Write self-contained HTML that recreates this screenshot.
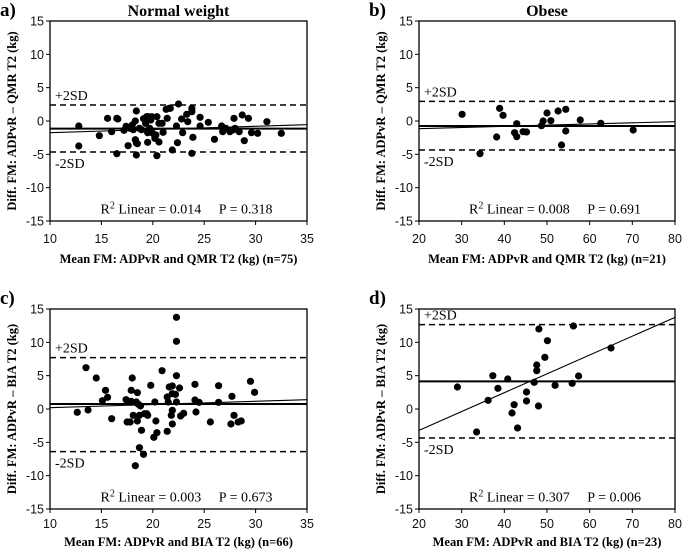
<!DOCTYPE html>
<html><head><meta charset="utf-8"><style>
html,body{margin:0;padding:0;background:#fff;}
svg{display:block;}
.tick{font-family:"Liberation Sans",sans-serif;font-size:12.5px;fill:#111;}
.ttl{font-family:"Liberation Serif",serif;font-weight:bold;font-size:16px;fill:#000;}
.ax{font-family:"Liberation Serif",serif;font-weight:bold;font-size:12.5px;fill:#000;}
.ann{font-family:"Liberation Serif",serif;font-size:14px;fill:#000;}
.pl{font-family:"Liberation Serif",serif;font-weight:bold;font-size:19px;fill:#000;}
</style></head><body>
<svg id="chart" width="682" height="549" viewBox="0 0 682 549" xmlns="http://www.w3.org/2000/svg"></svg>
<script>
// Panel a: Normal weight, ADPvR - QMR
const aX=[12.8,12.8,14.8,15.6,16.0,16.5,16.6,16.5,17.2,17.4,17.6,17.8,18.0,18.1,18.3,18.3,18.4,18.4,18.4,18.5,18.7,18.9,19.1,19.3,19.4,19.5,19.5,19.6,19.7,19.8,19.9,20.0,20.2,20.3,20.4,20.4,20.6,20.6,20.9,21.0,21.3,21.4,21.6,21.7,21.9,22.3,22.4,22.5,22.8,22.9,23.3,23.4,23.8,23.8,23.8,23.9,24.6,24.6,25.4,26.0,26.7,26.8,27.1,27.5,27.8,27.9,28.0,28.4,28.7,28.9,29.3,29.6,30.2,31.1,32.5];
const aY=[-3.75,-0.75,-2.2,0.4,-1.6,0.4,0.3,-4.9,-1.4,-0.8,-3.7,-1.1,-0.6,-1.3,-2.8,0,1.5,-3.3,-5.1,-3.4,-1.1,-1.3,0.35,-0.35,0.65,-1.75,-3.2,0.65,-1.1,0.15,0.65,-1.85,-2.6,-2.1,0.65,-5.2,-3.15,-0.35,-0.35,-1.7,1.75,0.4,1.9,1.9,-4.35,-0.75,-3.25,2.55,0.3,-1.75,1.0,-0.1,1.4,1.9,-4.85,-2.45,0.55,-0.75,-0.2,-2.75,-0.75,-1.6,-1.1,-1.6,-1.35,0.4,-1.1,-1.6,0.9,-2.95,0.4,-1.75,-1.85,-0.1,-1.85];
const aLines=[-1.15,2.4,-4.65]; // mean, +2SD, -2SD
const aReg=[-1.75,-0.55];
// Panel b: Obese, ADPvR - QMR
const bX=[30.1,34.3,38.2,38.9,39.7,42.4,42.9,42.9,44.4,45.2,48.7,49.1,50.0,50.9,52.6,53.4,54.4,54.4,57.8,62.6,70.2];
const bY=[1.0,-4.9,-2.4,1.9,0.85,-1.75,-0.4,-2.35,-1.6,-1.65,-0.7,0,1.2,0.05,1.5,-3.6,1.75,-1.5,0.15,-0.35,-1.35];
const bLines=[-0.75,2.95,-4.35];
const bReg=[-1.15,-0.1];
// Panel c: Normal weight, ADPvR - BIA
const cX=[12.65,13.5,13.7,14.5,15.1,15.4,15.6,16.0,17.4,17.5,17.8,17.9,17.9,18.0,18.1,18.4,18.5,18.5,18.6,18.7,18.3,18.7,18.8,18.9,19.1,19.2,19.4,19.5,19.8,20.1,20.2,20.3,20.4,20.9,21.4,21.4,21.5,21.6,21.9,21.8,21.9,21.9,21.9,22.3,22.3,22.3,22.2,22.3,22.6,22.7,23.0,24.1,24.1,24.2,24.5,25.6,26.4,26.4,27.6,27.7,27.9,28.3,28.6,29.5,29.9];
const cY=[-0.5,6.2,-0.15,4.65,1.25,2.8,1.75,-1.45,1.4,-1.95,-1.95,2.8,1.15,4.65,-0.95,1.05,2.45,-1.8,0.7,-5.8,-8.5,-0.95,0.45,-3.2,-6.8,-0.7,-0.7,-0.95,3.55,-4.25,1.05,-1.8,-3.55,5.75,-3.35,1.8,1.05,3.3,3.45,-0.95,2.3,-0.2,-2.25,13.75,10.15,5.0,2.2,1.05,3.15,-1.05,-0.65,3.7,1.35,-0.45,1.0,-1.95,3.5,1.0,-2.25,1.9,-0.95,-1.95,-1.8,4.15,2.5];
const cLines=[0.75,7.7,-6.4];
const cReg=[0.2,1.4];
// Panel d: Obese, ADPvR - BIA
const dX=[29.0,33.5,36.2,37.3,38.5,40.8,41.8,42.3,43.1,45.2,45.2,47.0,47.6,47.6,48.0,48.1,49.5,50.1,51.9,55.9,56.2,57.4,65.0];
const dY=[3.3,-3.45,1.3,5.0,3.1,4.5,-0.6,0.65,-2.85,2.55,1.2,4.0,6.6,5.75,0.45,12.0,7.75,10.25,3.55,3.85,12.45,4.95,9.15];
const dLines=[4.15,12.65,-4.35];
const dReg=[-3.2,13.75];
const yTicks=[15,10,5,0,-5,-10,-15];
const xTicksA=[10,15,20,25,30,35];
const xTicksB=[20,30,40,50,60,70,80];

const NS="http://www.w3.org/2000/svg";
const svg=document.getElementById('chart');
function mk(tag,attrs,parent,txt){const e=document.createElementNS(NS,tag);for(const k in attrs)e.setAttribute(k,attrs[k]);if(txt!==undefined)e.textContent=txt;(parent||svg).appendChild(e);return e;}

function panel(id,L,T,W,H,xmin,xmax,xt,X,Y,lines,reg,letter,title,ytitle,xtitle,stat,tickOff,titleOff){
  const g=mk('g',{});
  
  
  const sx=v=>L+(v-xmin)/(xmax-xmin)*W;
  const sy=v=>T+(15-v)/30*H;
  const fr=mk('rect',{x:L,y:T,width:W,height:H,fill:'none',stroke:'#000','stroke-width':1.3},g);
  
  
  yTicks.forEach(v=>{
    mk('line',{x1:L-4,x2:L,y1:sy(v),y2:sy(v),stroke:'#000'},g);
    const t=mk('text',{x:L-6,y:sy(v)+4.5,'text-anchor':'end',class:'tick'},g,String(v));
    
    
  });
  xt.forEach(v=>{
    mk('line',{x1:sx(v),x2:sx(v),y1:T+H,y2:T+H+4,stroke:'#000'},g);
    const t=mk('text',{x:sx(v),y:T+H+tickOff,'text-anchor':'middle',class:'tick'},g,String(v));
    
    
  });
  [1,2].forEach(i=>{
    const l=mk('line',{x1:L,x2:L+W,y1:sy(lines[i]),y2:sy(lines[i]),stroke:'#000','stroke-width':1.5,'stroke-dasharray':'6,4'},g);
    
    
  });
  const m=mk('line',{x1:L,x2:L+W,y1:sy(lines[0]),y2:sy(lines[0]),stroke:'#000','stroke-width':2},g);
  
  
  const r=mk('line',{x1:L,x2:L+W,y1:sy(reg[0]),y2:sy(reg[1]),stroke:'#000','stroke-width':1.1},g);
  
  
  const up=mk('text',{x:L+5,y:sy(lines[1])-5,class:'ann'},g,'+2SD');
  
  
  const lo=mk('text',{x:L+5,y:sy(lines[2])+16,class:'ann'},g,'-2SD');
  
  
  X.forEach((x,i)=>{
    const c=mk('circle',{cx:sx(x),cy:sy(Y[i]),r:3.6,fill:'#000'},g);
    
    
  });
  const st=mk('text',{x:L+W/2+8,y:sy(-13.1)+5,'text-anchor':'middle',class:'ann'},g);
  
  
  st.innerHTML='R<tspan dy="-5" font-size="10">2</tspan><tspan dy="5"> Linear = '+stat[0]+'\u2003 P = '+stat[1]+'</tspan>';
  const pl=mk('text',{x:L-50,y:T-5,class:'pl'},g,letter);
  
  
  if(title){const tt=mk('text',{x:L+W/2,y:T-5,'text-anchor':'middle',class:'ttl'},g,title);
    
    }
  const yt=mk('text',{x:0,y:0,'text-anchor':'middle',class:'ax',transform:'translate('+(L-34)+','+(T+H/2)+') rotate(-90)'},g,ytitle);
  
  
  const xtt=mk('text',{x:L+W/2,y:T+H+titleOff,'text-anchor':'middle',class:'ax'},g,xtitle);
  
  
}
panel('a',50,21,257,200,10,35,xTicksA,aX,aY,aLines,aReg,'a)','Normal weight','Diff. FM: ADPvR \u2013 QMR T2 (kg)','Mean FM: ADPvR and QMR T2 (kg) (n=75)',['0.014','0.318'],22,42);
panel('b',419,21,256,200,20,80,xTicksB,bX,bY,bLines,bReg,'b)','Obese','Diff. FM: ADPvR \u2013 QMR T2 (kg)','Mean FM: ADPvR and QMR T2 (kg) (n=21)',['0.008','0.691'],22,42);
panel('c',50,309,257,200,10,35,xTicksA,cX,cY,cLines,cReg,'c)','','Diff. FM: ADPvR \u2013 BIA T2 (kg)','Mean FM: ADPvR and BIA T2 (kg) (n=66)',['0.003','0.673'],19,37);
panel('d',419,309,256,200,20,80,xTicksB,dX,dY,dLines,dReg,'d)','','Diff. FM: ADPvR \u2013 BIA T2 (kg)','Mean FM: ADPvR and BIA T2 (kg) (n=23)',['0.307','0.006'],19,37);
</script>
</body></html>
